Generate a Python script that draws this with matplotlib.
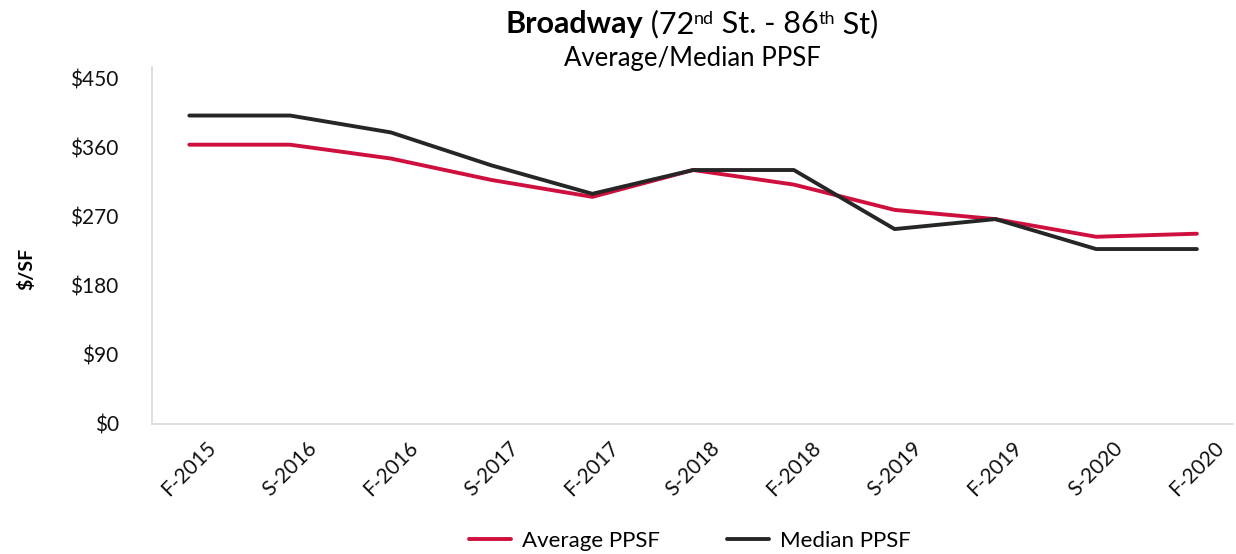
import matplotlib.pyplot as plt

plt.rcParams['font.family'] = ['Lato', 'DejaVu Sans']

periods = ['F-2015', 'S-2016', 'F-2016', 'S-2017', 'F-2017', 'S-2018',
           'F-2018', 'S-2019', 'F-2019', 'S-2020', 'F-2020']
avg_ppsf = [364, 364, 346, 318, 296, 331, 312, 279, 267, 244, 248]
median_ppsf = [402, 402, 380, 337, 300, 331, 331, 254, 267, 228, 228]
yticks = [0, 90, 180, 270, 360, 450]

RED = '#cf0f3e'
BLACK = '#262626'
GRID = '#d9d9d9'

fig = plt.figure(figsize=(12.36, 5.54), dpi=100)
ax = fig.add_axes([0.123, 0.2347, 0.8747, 0.644])

x = list(range(len(periods)))
ax.plot(x, avg_ppsf, color=RED, lw=2.8, solid_capstyle='round',
        solid_joinstyle='round', label='Average PPSF')
ax.plot(x, median_ppsf, color=BLACK, lw=2.8, solid_capstyle='round',
        solid_joinstyle='round', label='Median PPSF')

ax.set_xlim(-0.37, 10.36)
ax.set_ylim(0, 465)
ax.set_yticks(yticks)
ax.set_yticklabels([f'${v}' for v in yticks], fontsize=15, color='#111111')
ax.set_xticks(x)
ax.set_xticklabels(periods, rotation=45, ha='center', va='top',
                   fontsize=15, color='#111111')
ax.tick_params(axis='both', length=0)
ax.tick_params(axis='x', pad=10)
ax.tick_params(axis='y', pad=24)

for side in ['top', 'right']:
    ax.spines[side].set_visible(False)
for side in ['left', 'bottom']:
    ax.spines[side].set_color(GRID)
    ax.spines[side].set_linewidth(1.2)

fig.text(0.021, 0.515, '$/SF', rotation=90, fontsize=14, fontweight='bold',
         ha='center', va='center')

# title with superscripts, built from pieces
fig.canvas.draw()
renderer = fig.canvas.get_renderer()
pieces = [('Broadway', 22, 'bold', 0), (' (72', 22, 'normal', 0),
          ('nd', 13, 'normal', 9), (' St. - 86', 22, 'normal', 0),
          ('th', 13, 'normal', 9), (' St)', 22, 'normal', 0)]
texts = []
for s, size, weight, rise in pieces:
    t = fig.text(0, 0, s, fontsize=size, fontweight=weight, va='baseline')
    texts.append((t, rise))
widths = [t.get_window_extent(renderer).width for t, _ in texts]
total = sum(widths)
xpos = 692 - total / 2
base_y = 554 - 33
for (t, rise), w in zip(texts, widths):
    t.set_position((xpos / 1236, (base_y + rise) / 554))
    xpos += w

fig.text(692 / 1236, 1 - 66 / 554, 'Average/Median PPSF', fontsize=18.5,
         ha='center', va='baseline')

fig.legend(loc='center', bbox_to_anchor=(0.558, 0.024), ncol=2, frameon=False,
           fontsize=16, handlelength=1.9, columnspacing=3.0, handletextpad=0.5)

fig.savefig('out.png', dpi=100)
